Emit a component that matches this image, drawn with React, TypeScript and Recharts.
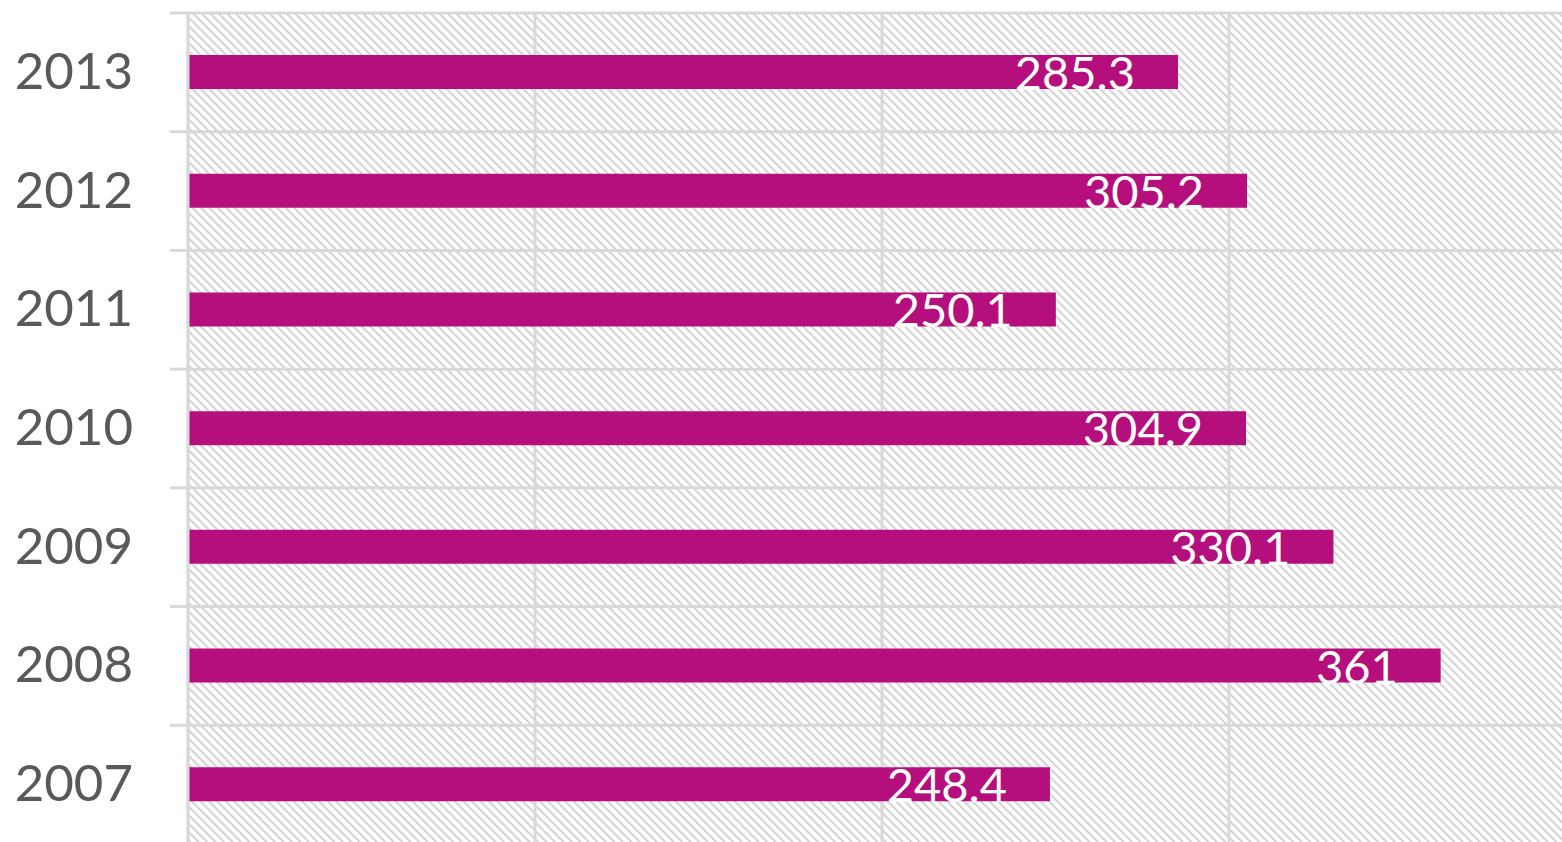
import React from "react";
import { BarChart, Bar, XAxis, YAxis, CartesianGrid, LabelList } from "recharts";

const years = ["2013", "2012", "2011", "2010", "2009", "2008", "2007"];
const values = [285.3, 305.2, 250.1, 304.9, 330.1, 361, 248.4];
const xTicks = [0, 100, 200, 300, 400];

const data = years.map((y, i) => ({ year: y, value: values[i] }));

const CHART_W = 1600;
const CHART_H = 862;
const TOP = 13;
const BOTTOM = 18;
const AXIS_W = 188;
const BAND = (CHART_H - TOP - BOTTOM) / years.length;
const FONT = "Lato, 'Open Sans', sans-serif";

function YearTick(props: any) {
  const { y, payload, index } = props;
  return (
    <g>
      <line x1={170} x2={AXIS_W} y1={y - BAND / 2} y2={y - BAND / 2} stroke="#d9d9d9" strokeWidth={3} />
      {index === years.length - 1 && (
        <line x1={170} x2={AXIS_W} y1={y + BAND / 2} y2={y + BAND / 2} stroke="#d9d9d9" strokeWidth={3} />
      )}
      <text
        x={133}
        y={y - 3}
        textAnchor="end"
        dominantBaseline="central"
        fill="#595959"
        fontSize={51}
        fontFamily={FONT}
      >
        {payload.value}
      </text>
    </g>
  );
}

function ValueLabel(props: any) {
  const { x, y, width, height, value } = props;
  return (
    <text
      x={x + width - 43}
      y={y + height / 2}
      textAnchor="end"
      dominantBaseline="central"
      fill="#ffffff"
      fontSize={47}
      fontFamily={FONT}
    >
      {value}
    </text>
  );
}

export default function App() {
  return (
    <div
      style={{
        position: "fixed",
        left: 0,
        top: 0,
        width: 1562,
        height: 842,
        overflow: "hidden",
        background: "#ffffff",
      }}
    >
      <BarChart
        width={CHART_W}
        height={CHART_H}
        data={data}
        layout="vertical"
        margin={{ top: TOP, right: CHART_W - 1576, bottom: BOTTOM, left: 0 }}
        barCategoryGap={0}
      >
        <defs>
          <pattern
            id="hatch"
            patternUnits="userSpaceOnUse"
            width={6}
            height={6}
            patternTransform="rotate(-45)"
          >
            <rect width={6} height={6} fill="#ffffff" />
            <line x1={1} y1={0} x2={1} y2={6} stroke="#d4d4d4" strokeWidth={2.2} />
          </pattern>
        </defs>
        <CartesianGrid
          fill="url(#hatch)"
          fillOpacity={1}
          stroke="#d9d9d9"
          strokeWidth={3}
          horizontalCoordinatesGenerator={({ offset }: any) =>
            years.map((_, i) => offset.top + i * BAND).concat([offset.top + years.length * BAND])
          }
        />
        <XAxis type="number" domain={[0, 400]} ticks={xTicks} hide />
        <YAxis
          type="category"
          dataKey="year"
          width={AXIS_W}
          axisLine={{ stroke: "#d9d9d9", strokeWidth: 3 }}
          tickLine={false}
          tick={<YearTick />}
        />
        <Bar dataKey="value" fill="#B50F7E" barSize={34} isAnimationActive={false}>
          <LabelList dataKey="value" content={<ValueLabel />} />
        </Bar>
      </BarChart>
    </div>
  );
}
